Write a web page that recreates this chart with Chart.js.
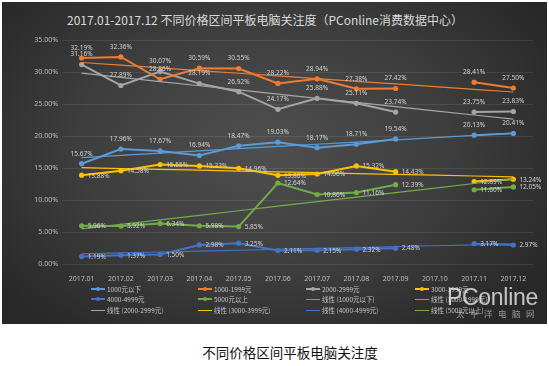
<!DOCTYPE html>
<html>
<head>
<meta charset="utf-8">
<script src="https://cdn.jsdelivr.net/npm/chart.js@4/dist/chart.umd.min.js"></script>
<style>
  html,body{margin:0;padding:0;background:#fff;}
  #wrap{position:relative;width:549px;height:366px;overflow:hidden;background:#fff;font-family:"Noto Sans CJK SC","Noto Sans",sans-serif;}
  #bg{position:absolute;left:2px;top:2px;width:545px;height:322px;
      background:radial-gradient(ellipse 62% 72% at 48% 45%, #4f4f4f 0%, #3d3d3d 55%, #282828 100%);}
  #title{position:absolute;left:0;top:12px;width:530px;text-align:center;font-size:12px;line-height:16px;color:#d9d9d9;white-space:nowrap;}
  #c{position:absolute;left:0;top:0;}
  .lg{position:absolute;height:10px;font-size:6.5px;line-height:10px;color:#c4c4c4;white-space:nowrap;}
  .lg .sw{position:absolute;left:0;top:4px;width:14px;height:2px;}
  .lg .sw.thin{top:4.5px;height:1.2px;}
  .lg .dot{position:absolute;left:5px;top:3px;width:4px;height:4px;border-radius:50%;}
  .lg .tx{position:absolute;left:16px;top:0;}
  #wm{position:absolute;left:447px;top:285px;font-family:"Liberation Sans",Arial,sans-serif;font-size:23px;line-height:24px;color:rgba(255,255,255,0.72);letter-spacing:-0.3px;}
  #wm2{position:absolute;left:456px;top:308px;font-size:8.5px;line-height:10px;color:rgba(255,255,255,0.5);letter-spacing:5.5px;white-space:nowrap;}
  #cap{position:absolute;left:0;width:580px;top:343px;text-align:center;font-size:13.5px;line-height:18px;color:#111;}
</style>
</head>
<body>
<div id="wrap">
  <div id="bg"></div>
  <div id="title">2017.01-2017.12 不同价格区间平板电脑关注度（PConline消费数据中心）</div>
  <canvas id="c" width="549" height="326"></canvas>
  <div id="legend"></div>
  <div id="wm">PConline</div>
  <div id="wm2">太平洋电脑网</div>
  <div id="cap">不同价格区间平板电脑关注度</div>
</div>
<script>
const categories = ['2017.01','2017.02','2017.03','2017.04','2017.05','2017.06','2017.07','2017.08','2017.09','2017.10','2017.11','2017.12'];
const seriesNames = ['1000元以下','1000-1999元','2000-2999元','3000-3999元','4000-4999元','5000元以上'];
const s1000 = [15.67,17.96,17.67,16.94,18.47,19.03,18.17,18.71,19.54,null,20.13,20.41];
const s1999 = [32.19,32.36,28.86,30.59,30.55,28.22,28.94,27.38,27.42,null,28.41,27.50];
const s2999 = [31.16,27.89,30.07,28.19,26.92,24.17,25.88,25.11,23.74,null,23.75,23.83];
const s3999 = [13.88,14.58,15.55,15.33,14.96,13.86,14.06,15.32,14.43,null,12.89,13.24];
const s4999 = [1.19,1.37,1.50,2.98,3.25,2.11,2.15,2.32,2.48,null,3.17,2.97];
const s5000 = [5.96,5.92,6.34,5.98,5.85,12.64,10.86,11.16,12.39,null,11.60,12.05];
const yTickValues = [0,5,10,15,20,25,30,35];

const seriesValues = [s1000,s1999,s2999,s3999,s4999,s5000];
const colors = ['#5B9BD5','#ED7D31','#A5A5A5','#FFC000','#4472C4','#70AD47'];
const labelPos = ['top','top','top','right','right','right'];

// Excel-style linear trendline (least squares over the non-empty points)
function trend(vals){
  const xs=[],ys=[];
  vals.forEach((v,i)=>{ if(v!=null){xs.push(i);ys.push(v);} });
  const n=xs.length, mx=xs.reduce((a,b)=>a+b,0)/n, my=ys.reduce((a,b)=>a+b,0)/n;
  let sxy=0,sxx=0; for(let k=0;k<n;k++){sxy+=(xs[k]-mx)*(ys[k]-my);sxx+=(xs[k]-mx)**2;}
  const b=sxy/sxx, a=my-b*mx;
  return vals.map((_,i)=>a+b*i);
}

const datasets = [];
seriesValues.forEach((vals,i)=>{
  datasets.push({label:seriesNames[i],data:vals,borderColor:colors[i],backgroundColor:colors[i],
    borderWidth:2,pointRadius:2.6,pointBorderWidth:0,pointBackgroundColor:colors[i],tension:0,spanGaps:false,order:2});
});
seriesValues.forEach((vals,i)=>{
  datasets.push({label:'线性 ('+seriesNames[i]+')',data:trend(vals),borderColor:colors[i],
    borderWidth:1.2,pointRadius:0,tension:0,order:1});
});

const dataLabels = {
  id:'dataLabels',
  afterDatasetsDraw(chart){
    const ctx=chart.ctx; ctx.save();
    ctx.font='6.5px "Noto Sans"'; ctx.fillStyle='#d2d2d2';
    for(let i=0;i<seriesValues.length;i++){
      const meta=chart.getDatasetMeta(i);
      meta.data.forEach((pt,j)=>{
        const v=seriesValues[i][j]; if(v==null) return;
        const t=v.toFixed(2)+'%';
        ctx.textBaseline='middle';
        if(labelPos[i]==='top'){ctx.textAlign='center';ctx.fillText(t,pt.x,pt.y-10);}
        else {ctx.textAlign='left';ctx.fillText(t,pt.x+6,pt.y+0.5);}
      });
    }
    ctx.restore();
  }
};

new Chart(document.getElementById('c'),{
  type:'line',
  data:{labels:categories,datasets},
  options:{
    responsive:false,animation:false,devicePixelRatio:1,
    layout:{padding:{top:40,right:16,left:0,bottom:0}},
    plugins:{legend:{display:false},title:{display:false},tooltip:{enabled:false}},
    scales:{
      x:{type:'category',offset:true,grid:{display:false},border:{display:false},
         ticks:{color:'#bdbdbd',font:{size:7,family:'"Noto Sans"'},padding:3,maxRotation:0,autoSkip:false},
         afterFit(s){s.height=62;}},
      y:{min:0,max:35,afterBuildTicks(s){s.ticks=yTickValues.map(v=>({value:v}));},
         grid:{color:'rgba(255,255,255,0.11)',lineWidth:0.8,drawTicks:false},border:{display:false},
         ticks:{color:'#bdbdbd',font:{size:7,family:'"Noto Sans"'},padding:4,callback:v=>Number(v).toFixed(2)+'%'},
         afterFit(s){s.width=62;}}
    }
  },
  plugins:[dataLabels]
});

// legend grid (4 columns x 3 rows), built from the series names
const legendItems = [];
seriesNames.forEach((n,i)=>legendItems.push({text:n,color:colors[i],thin:false}));
seriesNames.forEach((n,i)=>legendItems.push({text:'线性 ('+n+')',color:colors[i],thin:true}));
const colX=[91,198,306,415], rowY=[284,294,305];
const lg=document.getElementById('legend');
legendItems.forEach((it,k)=>{
  const d=document.createElement('div'); d.className='lg';
  d.style.left=colX[k%4]+'px'; d.style.top=rowY[Math.floor(k/4)]+'px';
  d.innerHTML='<div class="sw'+(it.thin?' thin':'')+'" style="background:'+it.color+'"></div>'+
    (it.thin?'':'<div class="dot" style="background:'+it.color+'"></div>')+
    '<div class="tx">'+it.text+'</div>';
  lg.appendChild(d);
});
</script>
</body>
</html>
